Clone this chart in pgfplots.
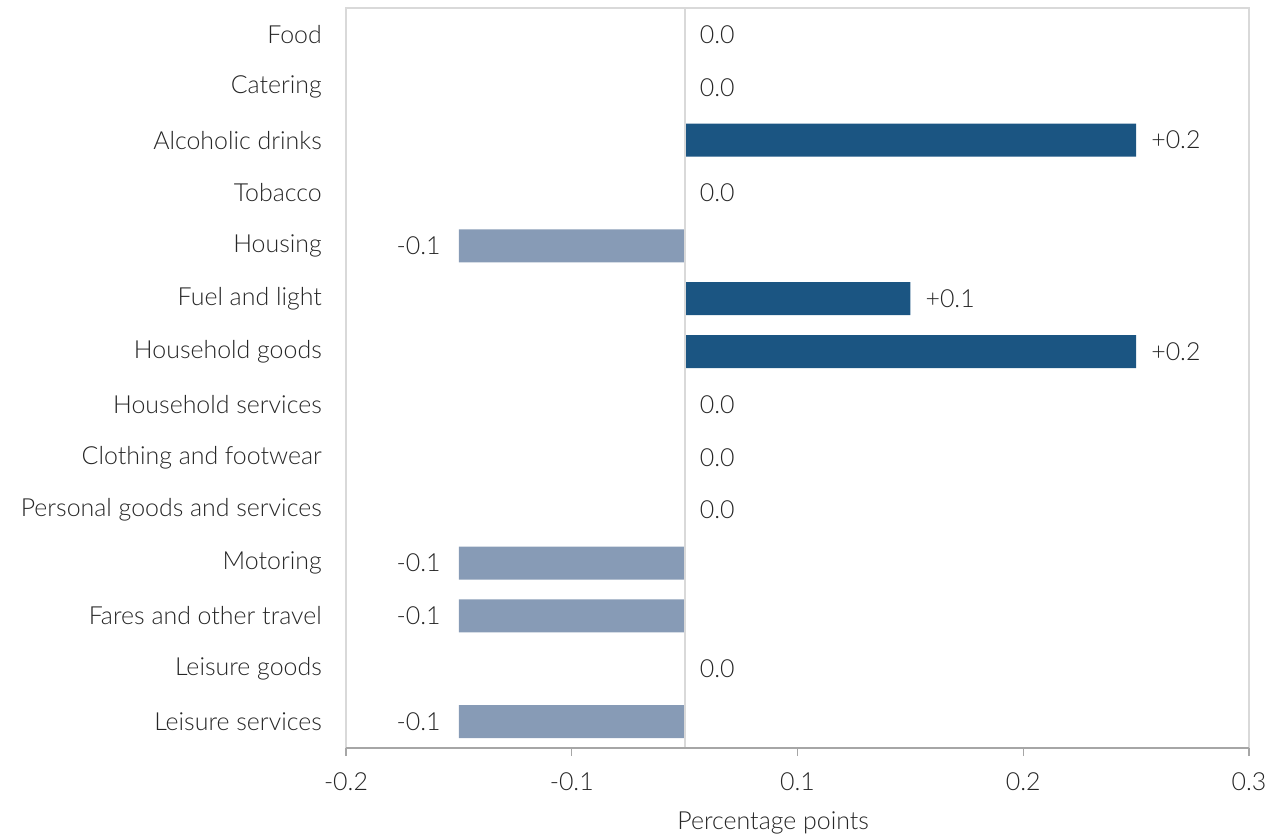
\documentclass[border=0pt]{standalone}
\usepackage{fontspec}
\setmainfont{Lato Light}
\usepackage{pgfplots}
\pgfplotsset{compat=1.18}
\definecolor{pos}{HTML}{1B5582}
\definecolor{neg}{HTML}{879BB6}
\definecolor{txt}{HTML}{262626}
\definecolor{framec}{HTML}{D9D9D9}
\definecolor{axisc}{HTML}{A6A6A6}
\begin{document}
\begin{tikzpicture}[font=\fontsize{25}{29}\selectfont, text=txt]
\path[use as bounding box] (-346bp,-88bp) rectangle (931bp,748bp);
\begin{axis}[at={(0,0)}, anchor=south west,
 scale only axis, width=903bp, height=740bp,
 xmin=-0.15, xmax=0.25, ymin=-0.5, ymax=13.5, y dir=reverse,
 clip=false,
 xbar, bar width=33bp, bar shift=0pt,
 axis line style={draw=none},
 xtick={-0.15,-0.05,0.05,0.15,0.25}, xticklabels={-0.2,-0.1,0.1,0.2,0.3},
 ytick={0,...,13},
 yticklabels={Food,Catering,Alcoholic drinks,Tobacco,Housing,Fuel and light,Household goods,Household services,Clothing and footwear,Personal goods and services,Motoring,Fares and other travel,Leisure goods,Leisure services},
 xtick pos=bottom, ytick pos=left,
 xtick align=outside, major tick length=8bp,
 xtick style={axisc, line width=1.5pt},
 ytick style={draw=none},
 yticklabel style={anchor=east, inner sep=0pt, xshift=-16bp, text=txt},
 xticklabel style={anchor=north, inner sep=0pt, yshift=-16bp, text=txt},
 xlabel={Percentage points},
 xlabel style={at={(axis description cs:0.473,0)}, anchor=center, yshift=-75bp, text=txt},
 nodes near coords, point meta=explicit symbolic,
]
\addplot[fill=pos, draw=none, every node near coord/.append style={anchor=west, inner sep=0pt, xshift=15bp, text=txt}]
 coordinates {(0.2,2)[+0.2] (0.1,5)[+0.1] (0.2,6)[+0.2]};
\addplot[fill=neg, draw=none, every node near coord/.append style={anchor=east, inner sep=0pt, xshift=-18bp, text=txt}]
 coordinates {(-0.1,4)[-0.1] (-0.1,10)[-0.1] (-0.1,11)[-0.1] (-0.1,13)[-0.1]};
\addplot[fill=none, draw=none, every node near coord/.append style={anchor=west, inner sep=0pt, xshift=15bp, text=txt}]
 coordinates {(0,0)[0.0] (0,1)[0.0] (0,3)[0.0] (0,7)[0.0] (0,8)[0.0] (0,9)[0.0] (0,12)[0.0]};
\draw[framec, line width=1.8pt] (axis cs:0,-0.5) -- (axis cs:0,13.5);
\draw[framec, line width=1.5pt] (axis description cs:0,0) -- (axis description cs:0,1) -- (axis description cs:1,1) -- (axis description cs:1,0);
\draw[axisc, line width=1.5pt] (axis description cs:0,0) -- (axis description cs:1,0);
\end{axis}
\end{tikzpicture}
\end{document}
